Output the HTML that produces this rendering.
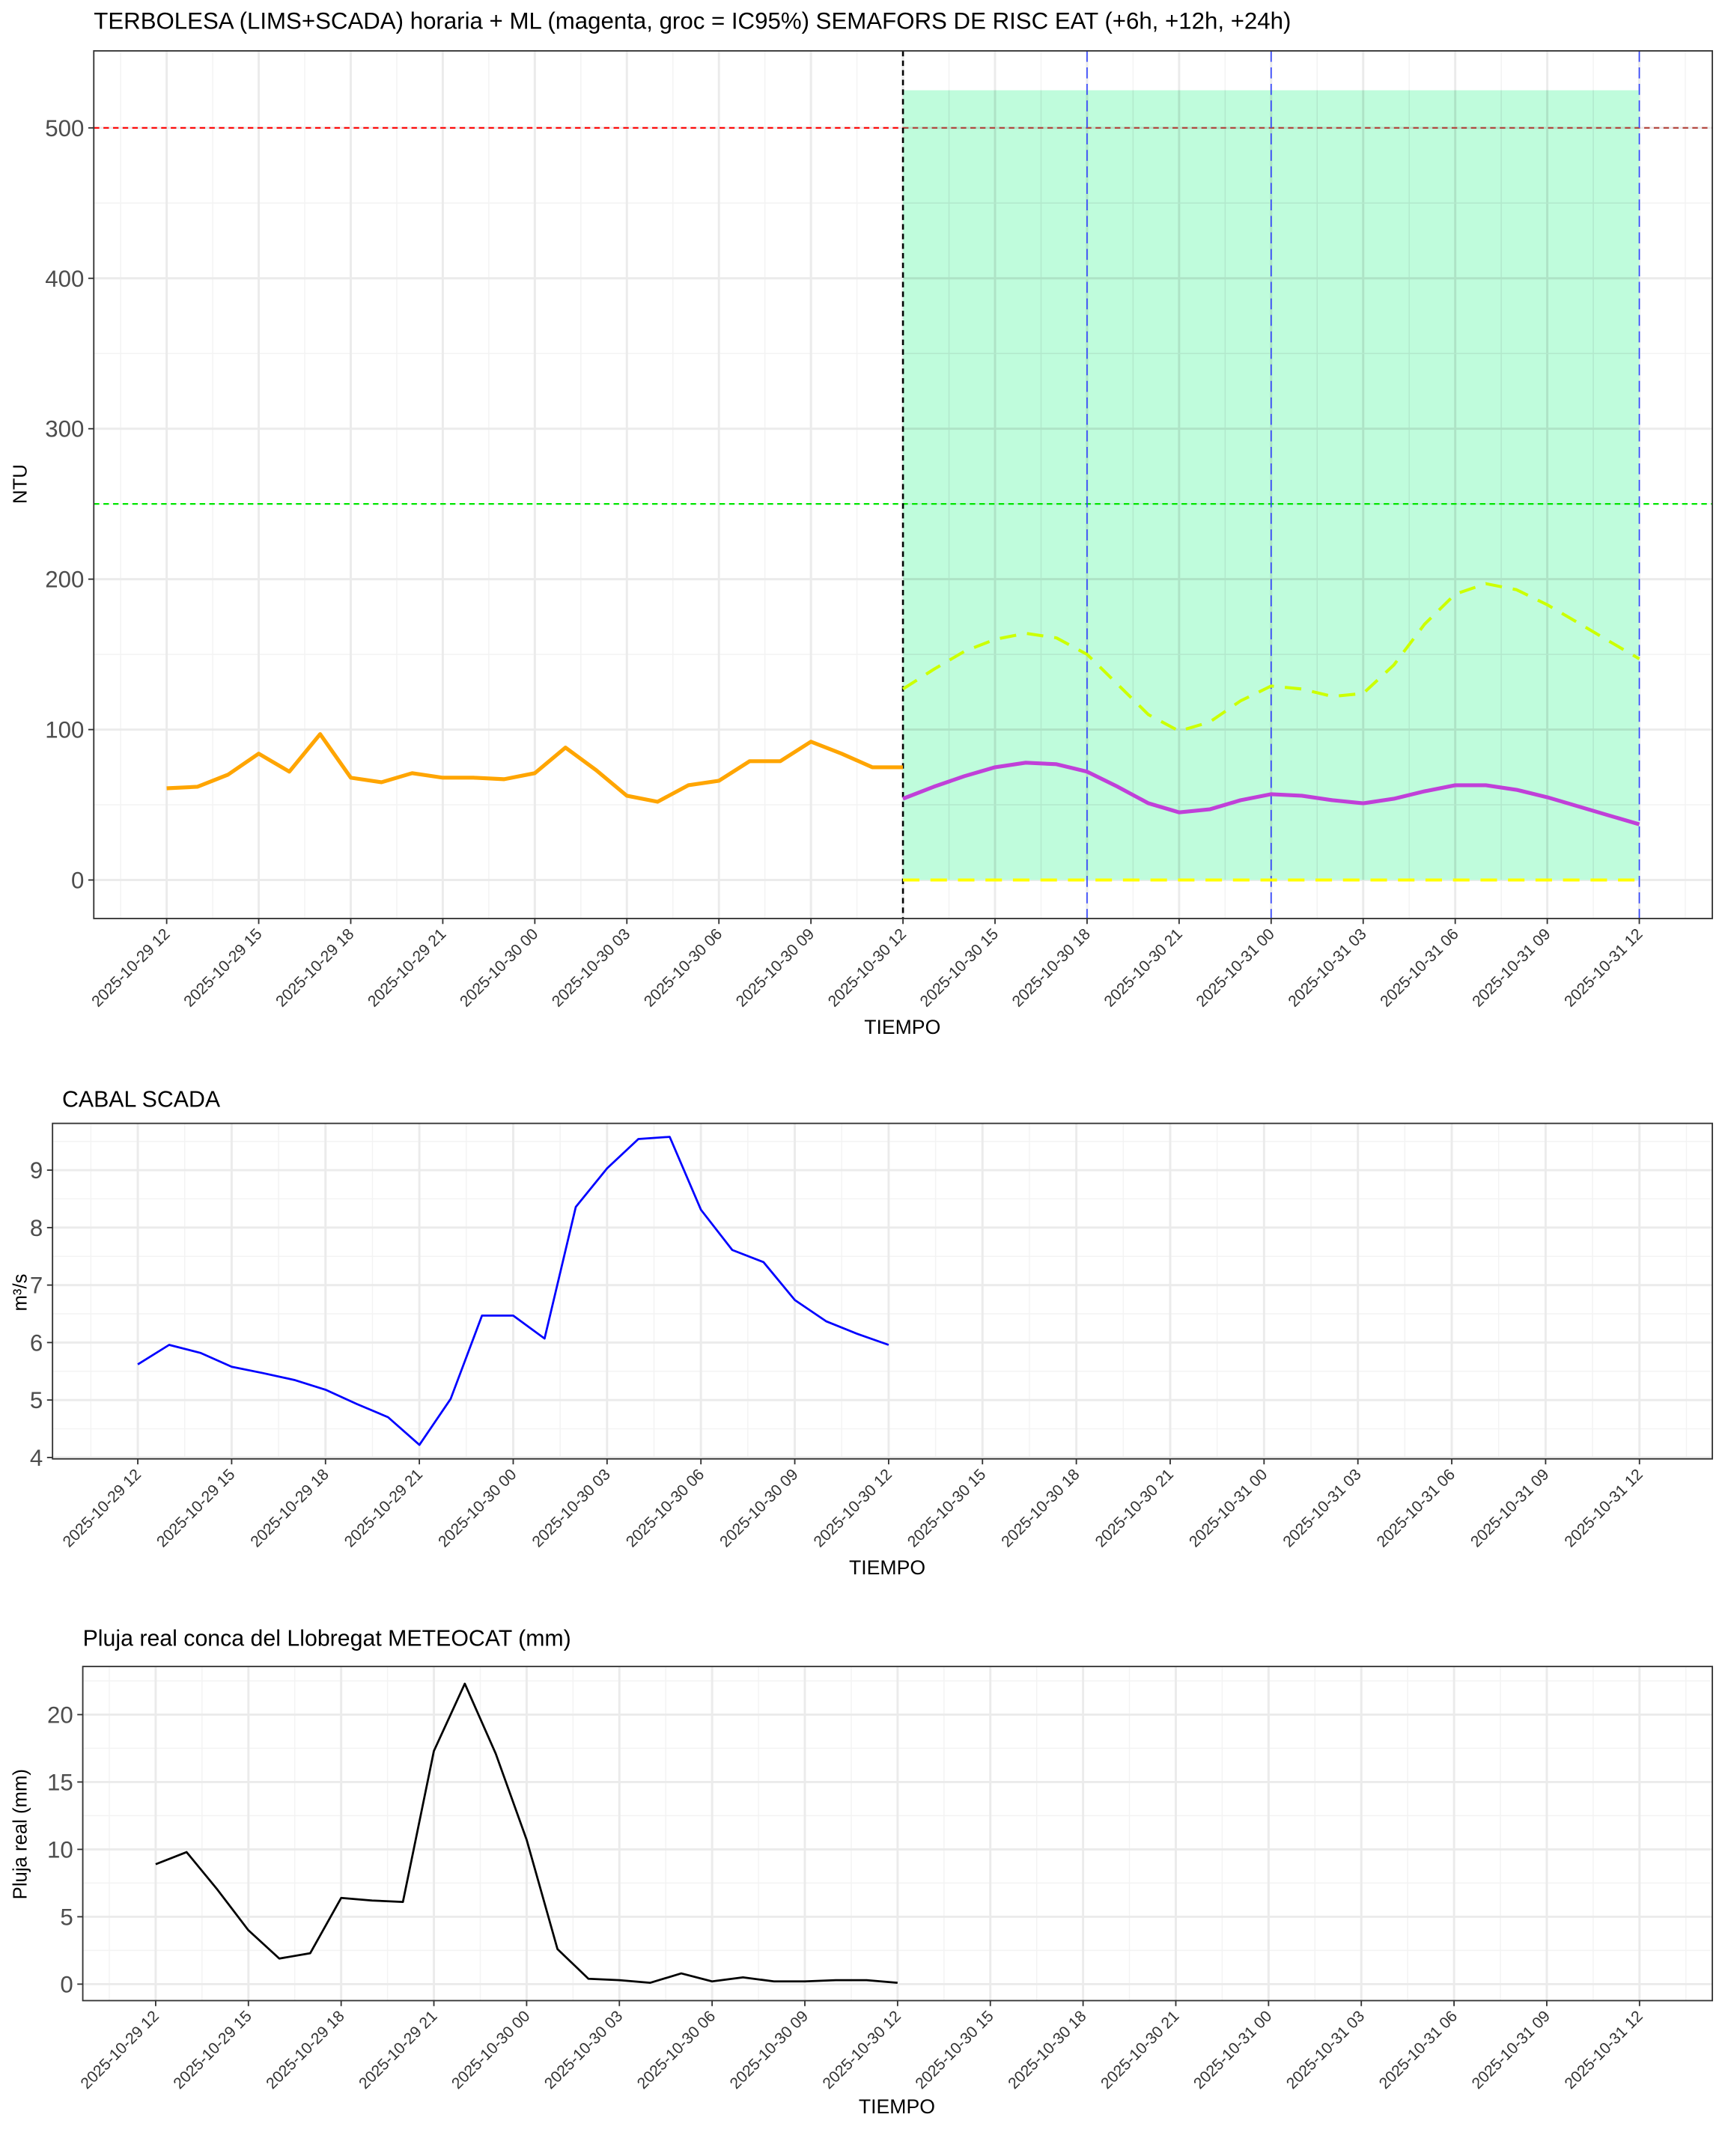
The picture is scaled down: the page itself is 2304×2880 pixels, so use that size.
<!DOCTYPE html>
<html><head><meta charset="utf-8"><style>
html,body{margin:0;padding:0;background:#fff}
svg{display:block}
text{font-family:"Liberation Sans",sans-serif}
</style></head><body>
<svg id="s" xmlns="http://www.w3.org/2000/svg" width="2304" height="2880" viewBox="0 0 1254 1568"></svg>
<script>
const S=document.getElementById('s');let h='';
function L(x1,y1,x2,y2,c,w,d){h+=`<line x1="${x1}" y1="${y1}" x2="${x2}" y2="${y2}" stroke="${c}" stroke-width="${w}"${d?` stroke-dasharray="${d}"`:''}/>`;}
function T(x,y,t,o){o=o||{};h+=`<text x="${x}" y="${y}" font-size="${o.fs||10}" fill="${o.c||'#000'}" text-anchor="${o.a||'start'}"${o.r?` transform="rotate(${o.r} ${x} ${y})"`:''}>${t}</text>`;}
function P(pts,c,w,d){h+=`<polyline fill="none" stroke="${c}" stroke-width="${w}" stroke-linejoin="round"${d?` stroke-dasharray="${d}"`:''} points="${pts.map(p=>p[0].toFixed(1)+','+p[1].toFixed(1)).join(' ')}"/>`;}
const labs=[];const days=['29','30','31'];
for(let k=0;k<=48;k+=3){const hh=(12+k)%24,d=Math.floor((12+k)/24);labs.push('2025-10-'+days[d]+' '+String(hh).padStart(2,'0'));}
function panel(o){
 const {x0,x1,y0,y1,xa,xb,yv,yf,ticks,minors}=o;
 h+=`<rect x="${x0}" y="${y0}" width="${x1-x0}" height="${y1-y0}" fill="#fff"/>`;
 const X=t=>xa+xb*t, Y=v=>yf(v);
 for(let t=-1.5;t<=50;t+=3){const x=X(t);if(x>x0&&x<x1)L(x,y0,x,y1,'#F3F3F3',0.8);}
 minors.forEach(v=>{const y=Y(v);if(y>y0&&y<y1)L(x0,y,x1,y,'#F3F3F3',0.8);});
 for(let t=0;t<=48;t+=3)L(X(t),y0,X(t),y1,'#EBEBEB',1.6);
 ticks.forEach(v=>L(x0,Y(v),x1,Y(v),'#EBEBEB',1.6));
 o.extra&&o.extra(X,Y);
 h+=`<rect x="${x0}" y="${y0}" width="${x1-x0}" height="${y1-y0}" fill="none" stroke="#333" stroke-width="1"/>`;
 ticks.forEach(v=>{L(x0-4,Y(v),x0,Y(v),'#333',1);T(x0-7,Y(v)+6,v,{fs:17,c:'#4d4d4d',a:'end'});});
 for(let i=0;i<labs.length;i++){const x=X(i*3);L(x,y1,x,y1+4,'#333',1);T(x+3,y1+12,labs[i],{fs:11.5,c:'#333',a:'end',r:-45});}
}
const o1=[61,62,70,84,72,97,68,65,71,68,68,67,71,88,73,56,52,63,66,79,79,92,84,75,75];
const mg=[54,62,69,75,78,77,72,62,51,45,47,53,57,56,53,51,54,59,63,63,60,55,49,43,37];
const up=[127,140,152,160,164,161,150,130,110,99,105,119,129,127,122,124,143,170,190,197,193,183,171,159,147];
const y1f=v=>640-v*1.094;
panel({x0:68,x1:1245,y0:37,y1:668,xa:121,xb:22.31,yf:y1f,ticks:[0,100,200,300,400,500],minors:[50,150,250,350,450],
extra:(X,Y)=>{
 h+=`<rect x="${X(24)}" y="${Y(525)}" width="${X(48)-X(24)}" height="${Y(0)-Y(525)}" fill="#BFFCDC"/>`;
 for(let t=25.5;t<48;t+=3)L(X(t),Y(525),X(t),Y(0),'#B2E8CC',0.8);
 for(let t=27;t<48;t+=3)L(X(t),Y(525),X(t),Y(0),'#AEE3C6',1.6);
 [50,150,250,350,450].forEach(v=>L(X(24),Y(v),X(48),Y(v),'#B2E8CC',0.8));
 [100,200,300,400,500].forEach(v=>L(X(24),Y(v),X(48),Y(v),'#AEE3C6',1.6));
 L(68,Y(500),X(24),Y(500),'#FF0000',1.2,'4,3');L(X(24),Y(500),1245,Y(500),'#B3423A',1.2,'4,3');
 L(68,Y(250),1245,Y(250),'#00E600',1.2,'4,3');
 [30,36,48].forEach(t=>L(X(t),37,X(t),668,'#3344FF',0.9,'8,4'));
 L(X(24),37,X(24),668,'#000',1.4,'4,3');
 P(o1.map((v,i)=>[X(i),Y(v)]),'#FFA500',2.8);
 P(up.map((v,i)=>[X(24+i),Y(v)]),'#CCFF00',2.2,'12,8');
 P(mg.map((_,i)=>[X(24+i),Y(0)]),'#FFFF00',2.2,'12,8');
 P(mg.map((v,i)=>[X(24+i),Y(v)]),'#C040D8',2.8);
}});
T(68,21,'TERBOLESA (LIMS+SCADA) horaria + ML (magenta, groc = IC95%) SEMAFORS DE RISC EAT (+6h, +12h, +24h)',{fs:17});
T(656,752,'TIEMPO',{fs:14.5,a:'middle'});T(19,352,'NTU',{fs:14,a:'middle',r:-90});
const q=[5.62,5.96,5.82,5.58,5.47,5.35,5.18,4.93,4.70,4.22,5.02,6.47,6.47,6.07,8.36,9.03,9.54,9.58,8.31,7.61,7.40,6.74,6.37,6.15,5.96];
panel({x0:38,x1:1245,y0:817,y1:1061,xa:100,xb:22.75,yf:v=>1060-(v-4)*41.8,ticks:[4,5,6,7,8,9],minors:[4.5,5.5,6.5,7.5,8.5,9.5],
extra:(X,Y)=>P(q.map((v,i)=>[X(i),Y(v)]),'#0000FF',1.5)});
T(45,805,'CABAL SCADA',{fs:16.5});T(645,1145,'TIEMPO',{fs:14.5,a:'middle'});T(19,940,'m³/s',{fs:14,a:'middle',r:-90});
const r=[8.9,9.8,7.0,4.0,1.9,2.3,6.4,6.2,6.1,17.3,22.3,17.1,10.7,2.6,0.4,0.3,0.1,0.8,0.2,0.5,0.2,0.2,0.3,0.3,0.1];
panel({x0:60,x1:1245,y0:1212,y1:1455,xa:113,xb:22.48,yf:v=>1443-v*9.8,ticks:[0,5,10,15,20],minors:[2.5,7.5,12.5,17.5,22.5],
extra:(X,Y)=>P(r.map((v,i)=>[X(i),Y(v)]),'#000',1.5)});
T(60,1197,'Pluja real conca del Llobregat METEOCAT (mm)',{fs:16.5});T(652,1537,'TIEMPO',{fs:14.5,a:'middle'});T(19,1334,'Pluja real (mm)',{fs:14,a:'middle',r:-90});
S.innerHTML=h;
</script>
</body></html>
